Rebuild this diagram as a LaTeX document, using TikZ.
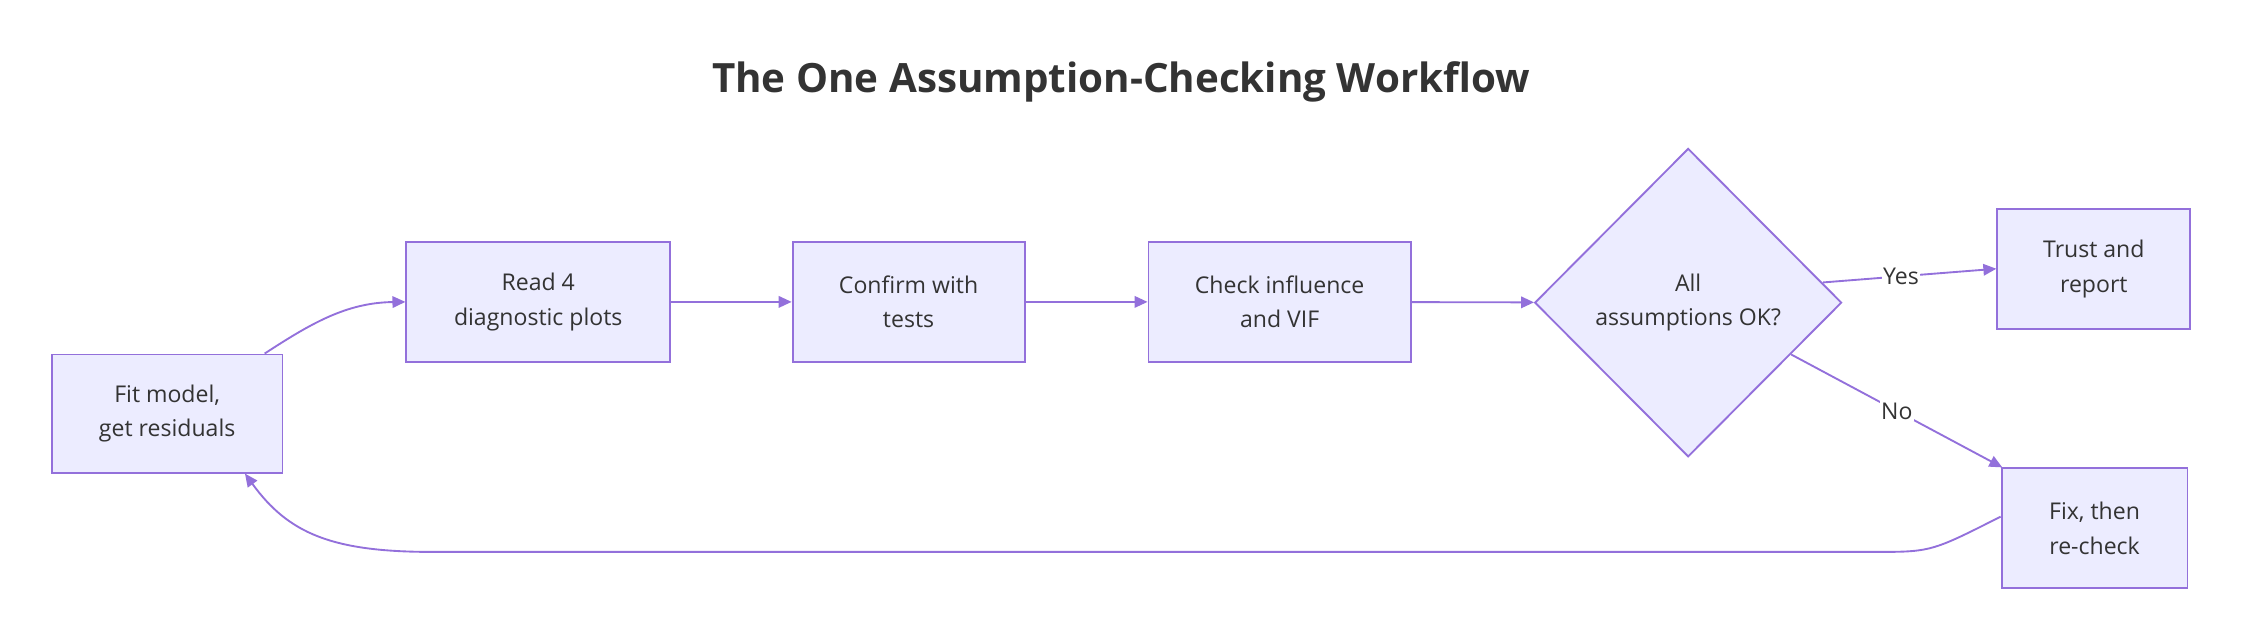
\documentclass[tikz,border=0pt]{standalone}
\usepackage{fontspec}
\setmainfont{Open Sans}
\usetikzlibrary{arrows.meta,shapes.geometric,positioning}
\definecolor{boxfill}{HTML}{ECECFF}
\definecolor{boxline}{HTML}{9370DB}
\definecolor{ink}{HTML}{333333}
\tikzset{
  stage/.style   ={rectangle, draw=boxline, fill=boxfill, line width=1.3pt, align=center,
    font=\fontsize{16}{24}\selectfont, text=ink, inner sep=0pt},
  decision/.style={diamond, draw=boxline, fill=boxfill, line width=1.3pt, align=center,
    font=\fontsize{16}{24}\selectfont, text=ink, inner sep=0pt,
    minimum width=213pt, minimum height=214pt},
  flow/.style    ={draw=boxline, line width=1.3pt, -{Triangle[length=9pt,width=8pt]}},
  tag/.style     ={fill=white, inner sep=1pt, font=\fontsize{16}{18}\selectfont, text=ink}}
\begin{document}
\begin{tikzpicture}[x=1pt,y=-1pt]
\useasboundingbox (0,0) rectangle (1560,445.5);
\node[font=\bfseries\fontsize{28}{32}\selectfont, text=ink] (title) at (778,57)
  {The One Assumption-Checking Workflow};
\node[stage, minimum width=160pt, minimum height=82pt] (fit) at (116,287) {Fit model,\\get residuals};
\node[stage, minimum width=183pt, minimum height=83pt] (read) at (373.5,209.5) {Read 4\\diagnostic plots};
\node[stage, minimum width=161pt, minimum height=83pt] (confirm) at (630.5,209.5) {Confirm with\\tests};
\node[stage, minimum width=182pt, minimum height=83pt] (check) at (888,209.5) {Check influence\\and VIF};
\node[decision] (ok) at (1171.5,210) {All\\assumptions OK?};
\node[stage, minimum width=134pt, minimum height=83pt] (trust) at (1453,186.5) {Trust and\\report};
\node[stage, minimum width=129pt, minimum height=83pt] (fix) at (1453.5,366.5) {Fix, then\\re-check};
\coordinate (fitout) at ([xshift=-13pt]fit.north east);
\coordinate (fitin) at ([xshift=54pt]fit.south);
\coordinate (yesout) at (1265,196);
\coordinate (noout) at (1243,246);
\coordinate (fixout) at ([yshift=8pt]fix.west);

% main line
\draw[flow] (fitout) .. controls (215,225) and (240,210) .. (read.west);
\draw[flow] (read) -- (confirm);
\draw[flow] (confirm) -- (check);
\draw[flow] (check) -- (ok);
\draw[flow] (yesout) -- node[tag, pos=.45] {Yes} (trust.west);
\draw[flow] (noout) -- node[tag, pos=.5] {No} ([xshift=-64pt]fix.north);
% loop back
\draw[flow] (fixout) .. controls (1340,383) .. (1300,383) -- (300,383)
  .. controls (230,383) and (200,370) .. (fitin);
\end{tikzpicture}
\end{document}
